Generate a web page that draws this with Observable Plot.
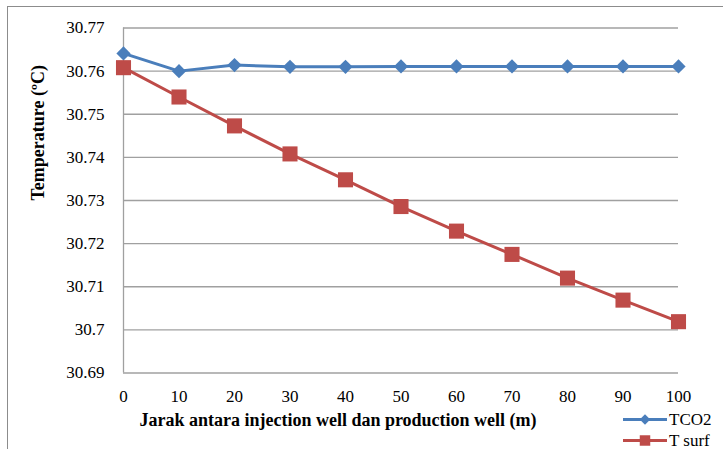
<!DOCTYPE html>
<html>
<head>
<meta charset="utf-8">
<script src="https://cdn.jsdelivr.net/npm/d3@7"></script>
<script src="https://cdn.jsdelivr.net/npm/@observablehq/plot@0.6"></script>
<style>
  html, body { margin: 0; padding: 0; background: #fff; }
  #wrap { position: relative; width: 723px; height: 449px; overflow: hidden; }
  #frame { position: absolute; left: 7px; top: 6px; width: 760px; height: 480px; border-top: 1.5px solid #8c8c8c; border-left: 1.5px solid #8c8c8c; pointer-events: none; }
  #legend { position: absolute; left: 622px; top: 409px; font-size: 17px; color: #000; line-height: 21px; }
  #legend .item { display: flex; align-items: center; height: 21px; white-space: nowrap; }
  #legend svg { display: block; margin-right: 1px; }
</style>
</head>
<body>
<div id="wrap"><div id="chart"></div><div id="frame"></div><div id="legend"></div></div>
<script>
// ---- data ----
const distance = [0, 10, 20, 30, 40, 50, 60, 70, 80, 90, 100];
const tco2  = [30.7641, 30.7600, 30.7614, 30.7610, 30.7610, 30.7611, 30.7611, 30.7611, 30.7611, 30.7611, 30.7611];
const tsurf = [30.7608, 30.7540, 30.7473, 30.7408, 30.7348, 30.7286, 30.7229, 30.7175, 30.7120, 30.7069, 30.7019];
const seriesNames = ["TCO2", "T surf"];
const xTicks = [0, 10, 20, 30, 40, 50, 60, 70, 80, 90, 100];
const yTicks = [30.69, 30.70, 30.71, 30.72, 30.73, 30.74, 30.75, 30.76, 30.77];
const xLabel = "Jarak antara injection well dan production well (m)";
const yLabel = "Temperature (ºC)";

const FONT = "'Liberation Serif', 'Times New Roman', serif";
const colors = ["#4a7ebb", "#be4b48"];
const symbols = ["diamond2", "square"];
const radii = [6.4, 8.5];

const rowsA = distance.map((d, i) => ({x: d, y: tco2[i]}));
const rowsB = distance.map((d, i) => ({x: d, y: tsurf[i]}));

const chart = Plot.plot({
  width: 723,
  height: 449,
  marginLeft: 123,
  marginRight: 45,
  marginTop: 27.5,
  marginBottom: 76.5,
  style: { fontSize: "17px", background: "transparent", color: "#000" },
  x: { domain: [0, 100] },
  y: { domain: [30.69, 30.77] },
  marks: [
    Plot.gridY(yTicks, { stroke: "#a0a0a0", strokeOpacity: 1, strokeWidth: 1.3 }),
    Plot.ruleX([xTicks[0]], { stroke: "#a0a0a0", strokeWidth: 1.3 }),
    Plot.axisY(yTicks, { tickSize: 0, tickPadding: 19, tickFormat: d => String(+d.toFixed(2)), fontSize: 17, label: null }),
    Plot.axisX(xTicks, { tickSize: 0, tickPadding: 17, fontSize: 17, label: null }),
    Plot.line(rowsA, { x: "x", y: "y", stroke: colors[0], strokeWidth: 3 }),
    Plot.dot(rowsA, { x: "x", y: "y", symbol: symbols[0], r: radii[0], fill: colors[0], stroke: "none" }),
    Plot.line(rowsB, { x: "x", y: "y", stroke: colors[1], strokeWidth: 3 }),
    Plot.dot(rowsB, { x: "x", y: "y", symbol: symbols[1], r: radii[1], fill: colors[1], stroke: "none" }),
    Plot.text([xLabel], { frameAnchor: "bottom", dx: -63, dy: 53, fontWeight: "bold", fontSize: 18, fill: "#000" }),
    Plot.text([yLabel], { frameAnchor: "left", rotate: -90, dx: -85, fontWeight: "bold", fontSize: 18, fill: "#000" })
  ]
});
const setFont = el => el.style.setProperty("font-family", FONT, "important");
setFont(chart);
chart.querySelectorAll("g, text, tspan").forEach(setFont);
document.getElementById("chart").appendChild(chart);

// legend
const legend = document.getElementById("legend");
setFont(legend);
seriesNames.forEach((name, i) => {
  const item = document.createElement("div");
  item.className = "item";
  const sym = d3.symbol(i === 0 ? d3.symbolDiamond2 : d3.symbolSquare, i === 0 ? 70 : 110)();
  item.innerHTML = `<svg width="46" height="21"><line x1="1" x2="45" y1="10.5" y2="10.5" stroke="${colors[i]}" stroke-width="3"/><path transform="translate(23,10.5)" d="${sym}" fill="${colors[i]}"/></svg><span>${name}</span>`;
  item.querySelectorAll("span").forEach(setFont);
  legend.appendChild(item);
});
</script>
</body>
</html>
